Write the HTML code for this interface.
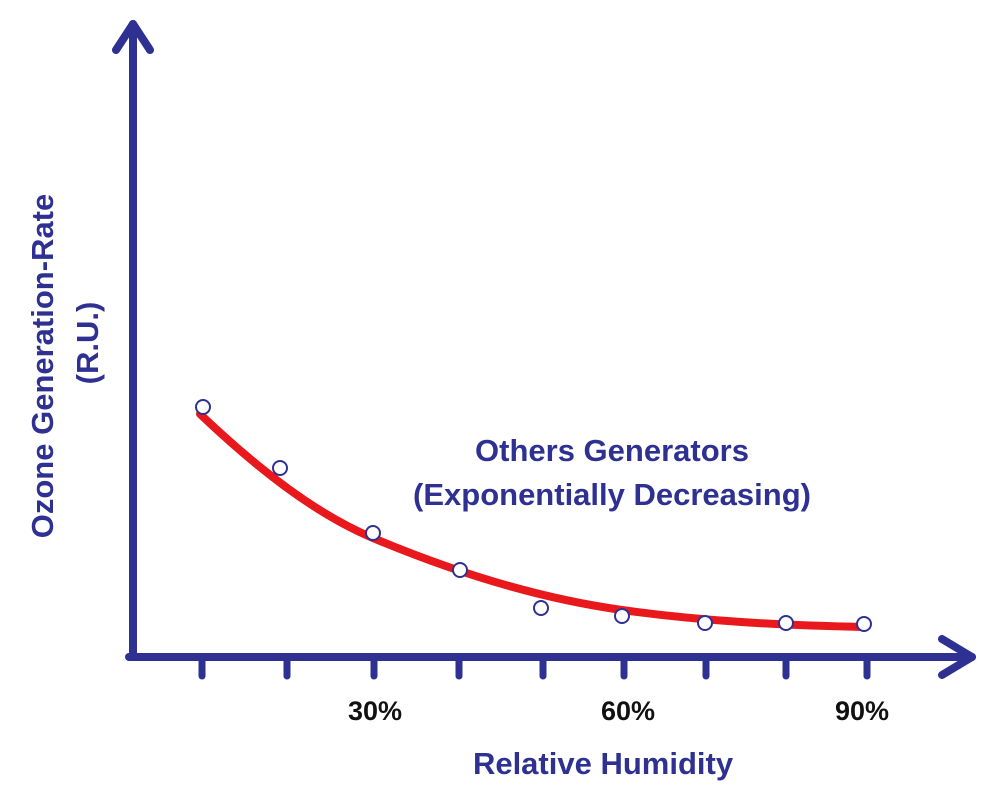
<!DOCTYPE html>
<html><head><style>body{margin:0;background:#fff}</style></head><body>
<svg width="991" height="783" xmlns="http://www.w3.org/2000/svg" font-family="Liberation Sans, sans-serif" font-weight="bold">
<g stroke="#2e3192" stroke-width="8" stroke-linecap="round" fill="none">
<line x1="133" y1="24" x2="133" y2="657"/>
<line x1="129" y1="657" x2="972" y2="657"/>
<polyline points="116,50 133,24 150,50" stroke-linejoin="round"/>
<polyline points="942,639 972,657 942,675" stroke-linejoin="round"/>
<g stroke-width="7">
<line x1="202" y1="660" x2="202" y2="676"/><line x1="287" y1="660" x2="287" y2="676"/>
<line x1="374" y1="660" x2="374" y2="676"/><line x1="459" y1="660" x2="459" y2="676"/>
<line x1="543" y1="660" x2="543" y2="676"/><line x1="624" y1="660" x2="624" y2="676"/>
<line x1="706" y1="660" x2="706" y2="676"/><line x1="786" y1="660" x2="786" y2="676"/>
<line x1="867" y1="660" x2="867" y2="676"/>
</g></g>
<path d="M200,414 C257.7,468.8 315.3,513.8 373,538 C456,572.9 539,598.4 622,610 C702.7,621.3 783.3,625.4 864,627" stroke="#e8181c" stroke-width="8" fill="none" stroke-linecap="round"/>
<g fill="#fff" stroke="#2e3192" stroke-width="2">
<circle cx="203" cy="407" r="7"/><circle cx="280" cy="468" r="7"/><circle cx="373" cy="533" r="7"/>
<circle cx="460" cy="570" r="7"/><circle cx="541" cy="608" r="7"/><circle cx="622" cy="616" r="7"/>
<circle cx="705" cy="623" r="7"/><circle cx="786" cy="623" r="7"/><circle cx="864" cy="624" r="7"/>
</g>
<g font-size="27" fill="#111" text-anchor="middle">
<text x="375" y="720">30%</text><text x="628" y="720">60%</text><text x="862" y="720">90%</text>
</g>
<g fill="#2e3192" text-anchor="middle" font-size="31">
<text x="612" y="461">Others Generators</text>
<text x="612" y="505">(Exponentially Decreasing)</text>
<text x="603" y="774">Relative Humidity</text>
<text transform="translate(53,366) rotate(-90)">Ozone Generation-Rate</text>
<text transform="translate(98,343) rotate(-90)">(R.U.)</text>
</g>
</svg>
</body></html>
